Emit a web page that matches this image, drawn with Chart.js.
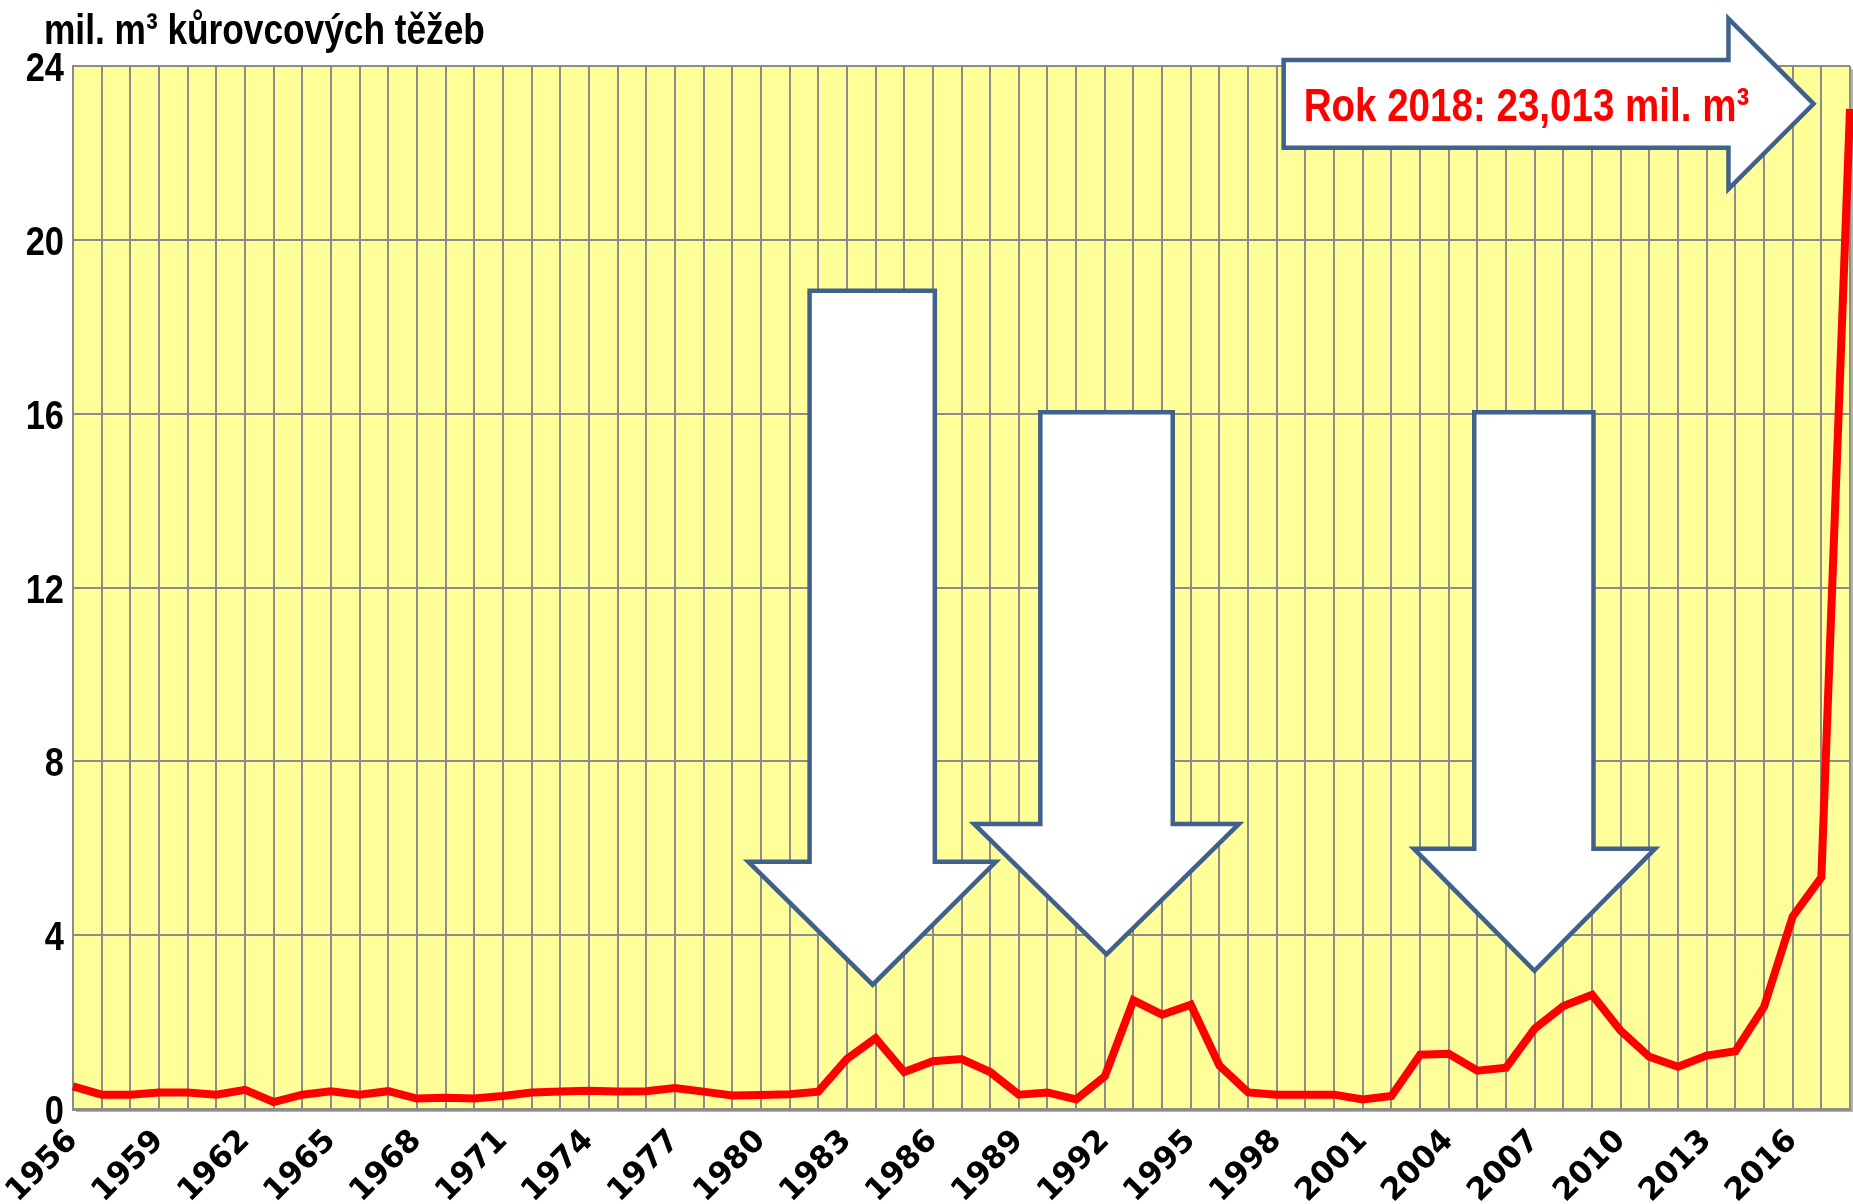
<!DOCTYPE html>
<html>
<head>
<meta charset="utf-8">
<script src="https://cdn.jsdelivr.net/npm/chart.js@4.4.1/dist/chart.umd.min.js"></script>
<style>
  html, body { margin: 0; padding: 0; background: #fff; }
  #wrap { width: 1853px; height: 1204px; position: relative; }
</style>
</head>
<body>
<div id="wrap"><canvas id="chart1"></canvas></div>
<script>
"use strict";

var years = [];
for (var y = 1956; y <= 2018; y++) years.push(y);

// mil. m3 per year
var harvest = [
  0.52, 0.33, 0.33, 0.38, 0.38, 0.33, 0.44, 0.16, 0.33, 0.41,
  0.33, 0.41, 0.24, 0.26, 0.24, 0.30, 0.38, 0.40, 0.42, 0.40,
  0.41, 0.48, 0.40, 0.31, 0.32, 0.34, 0.40, 1.15, 1.63, 0.85,
  1.10, 1.15, 0.85, 0.33, 0.38, 0.22, 0.75, 2.50, 2.17, 2.40,
  1.00, 0.38, 0.33, 0.33, 0.33, 0.22, 0.30, 1.25, 1.27, 0.88,
  0.95, 1.85, 2.37, 2.63, 1.80, 1.20, 0.97, 1.23, 1.33, 2.35,
  4.43, 5.33, 23.013
];

var yTicks = [0, 4, 8, 12, 16, 20, 24];
var xLabelYears = [1956, 1959, 1962, 1965, 1968, 1971, 1974, 1977, 1980, 1983, 1986,
  1989, 1992, 1995, 1998, 2001, 2004, 2007, 2010, 2013, 2016];

var yTitle = 'mil. m³ kůrovcových těžeb';
var calloutText = 'Rok 2018: 23,013 mil. m³';

// down arrows: [shaftLeft, shaftRight, headLeft, headRight, tipX, top, shaftBottom, tipY] (years / values)
var downArrows = [
  [1981.7, 1986.07, 1979.56, 1988.2, 1983.9, 18.83, 5.69, 2.86],
  [1989.75, 1994.37, 1987.44, 1996.68, 1992.06, 16.03, 6.56, 3.56],
  [2004.89, 2009.05, 2002.78, 2011.2, 2006.99, 16.03, 5.99, 3.18]
];
// right arrow: [left, headStart, tipX, bodyTop, bodyBottom, headTop, headBottom, tipY]
var rightArrow = [1998.24, 2013.76, 2016.73, 24.14, 22.12, 25.09, 21.17, 23.13];

var boldSans = "'Liberation Sans', Arial, sans-serif";

// narrow text: Liberation Sans Bold squeezed horizontally
function narrowText(c, text, x, y, size, sx, align) {
  c.save();
  c.font = 'bold ' + size + 'px ' + boldSans;
  c.textAlign = align || 'left';
  c.textBaseline = 'alphabetic';
  c.translate(x, y);
  c.scale(sx, 1);
  c.fillText(text, 0, 0);
  c.restore();
}

var decor = {
  id: 'decor',
  beforeDraw: function (chart) {
    var c = chart.ctx, a = chart.chartArea;
    c.save();
    c.fillStyle = '#b4b4b4';
    c.fillRect(a.left + 3, a.top + 3, a.right - a.left, a.bottom - a.top);
    c.fillStyle = '#ffff99';
    c.fillRect(a.left, a.top, a.right - a.left, a.bottom - a.top);
    c.restore();
  },
  afterDatasetsDraw: function (chart) {
    var c = chart.ctx, a = chart.chartArea;
    var xs = chart.scales.x, ys = chart.scales.y;
    function px(yr) { return xs.getPixelForValue(yr - years[0]); }
    function py(v) { return ys.getPixelForValue(v); }
    c.save();
    c.lineWidth = 4.5;
    c.strokeStyle = '#41618d';
    c.fillStyle = '#ffffff';
    c.lineJoin = 'miter';
    downArrows.forEach(function (d) {
      c.beginPath();
      c.moveTo(px(d[0]), py(d[5]));
      c.lineTo(px(d[1]), py(d[5]));
      c.lineTo(px(d[1]), py(d[6]));
      c.lineTo(px(d[3]), py(d[6]));
      c.lineTo(px(d[4]), py(d[7]));
      c.lineTo(px(d[2]), py(d[6]));
      c.lineTo(px(d[0]), py(d[6]));
      c.closePath();
      c.fill();
      c.stroke();
    });
    var r = rightArrow;
    c.beginPath();
    c.moveTo(px(r[0]), py(r[3]));
    c.lineTo(px(r[1]), py(r[3]));
    c.lineTo(px(r[1]), py(r[5]));
    c.lineTo(px(r[2]), py(r[7]));
    c.lineTo(px(r[1]), py(r[6]));
    c.lineTo(px(r[1]), py(r[4]));
    c.lineTo(px(r[0]), py(r[4]));
    c.closePath();
    c.fill();
    c.stroke();

    c.fillStyle = '#ff0000';
    narrowText(c, calloutText, px(r[0]) + 20, py(r[7]) + 17, 47, 0.82);

    c.fillStyle = '#000';
    narrowText(c, yTitle, 44, 44, 43, 0.82);

    yTicks.forEach(function (v) {
      narrowText(c, String(v), a.left - 9, py(v) + 15, 41, 0.84, 'right');
    });
    c.restore();
  }
};

var ctx = document.getElementById('chart1').getContext('2d');
var myChart = new Chart(ctx, {
  type: 'line',
  data: {
    labels: years,
    datasets: [{
      label: 'kůrovcové těžby',
      data: harvest,
      borderColor: '#ff0000',
      backgroundColor: '#ff0000',
      borderWidth: 8,
      pointRadius: 0,
      tension: 0,
      clip: 8
    }]
  },
  options: {
    responsive: true,
    maintainAspectRatio: false,
    animation: false,
    layout: { padding: { top: 66, right: 3, left: 0, bottom: 0 } },
    plugins: {
      legend: { display: false },
      tooltip: { enabled: false }
    },
    scales: {
      x: {
        type: 'category',
        offset: false,
        afterFit: function (s) {
          s.height = 95;
          s.paddingLeft = 0;
          s.paddingRight = 0;
        },
        grid: { color: '#8c8c8c', lineWidth: 2, drawTicks: false },
        border: { color: '#8c8c8c', width: 3 },
        ticks: {
          autoSkip: false,
          minRotation: 45,
          maxRotation: 45,
          padding: 14,
          color: '#000',
          font: { family: "'DejaVu Sans', sans-serif", size: 31, weight: 'bold' },
          callback: function (v, i) {
            return xLabelYears.indexOf(years[i]) >= 0 ? String(years[i]) : '';
          }
        }
      },
      y: {
        min: 0,
        max: 24,
        afterFit: function (s) { s.width = 73; },
        afterBuildTicks: function (s) {
          s.ticks = yTicks.map(function (v) { return { value: v }; });
        },
        grid: { color: '#8c8c8c', lineWidth: 2, drawTicks: false },
        border: { color: '#8c8c8c', width: 2 },
        ticks: { display: false }
      }
    }
  },
  plugins: [decor]
});
</script>
</body>
</html>
